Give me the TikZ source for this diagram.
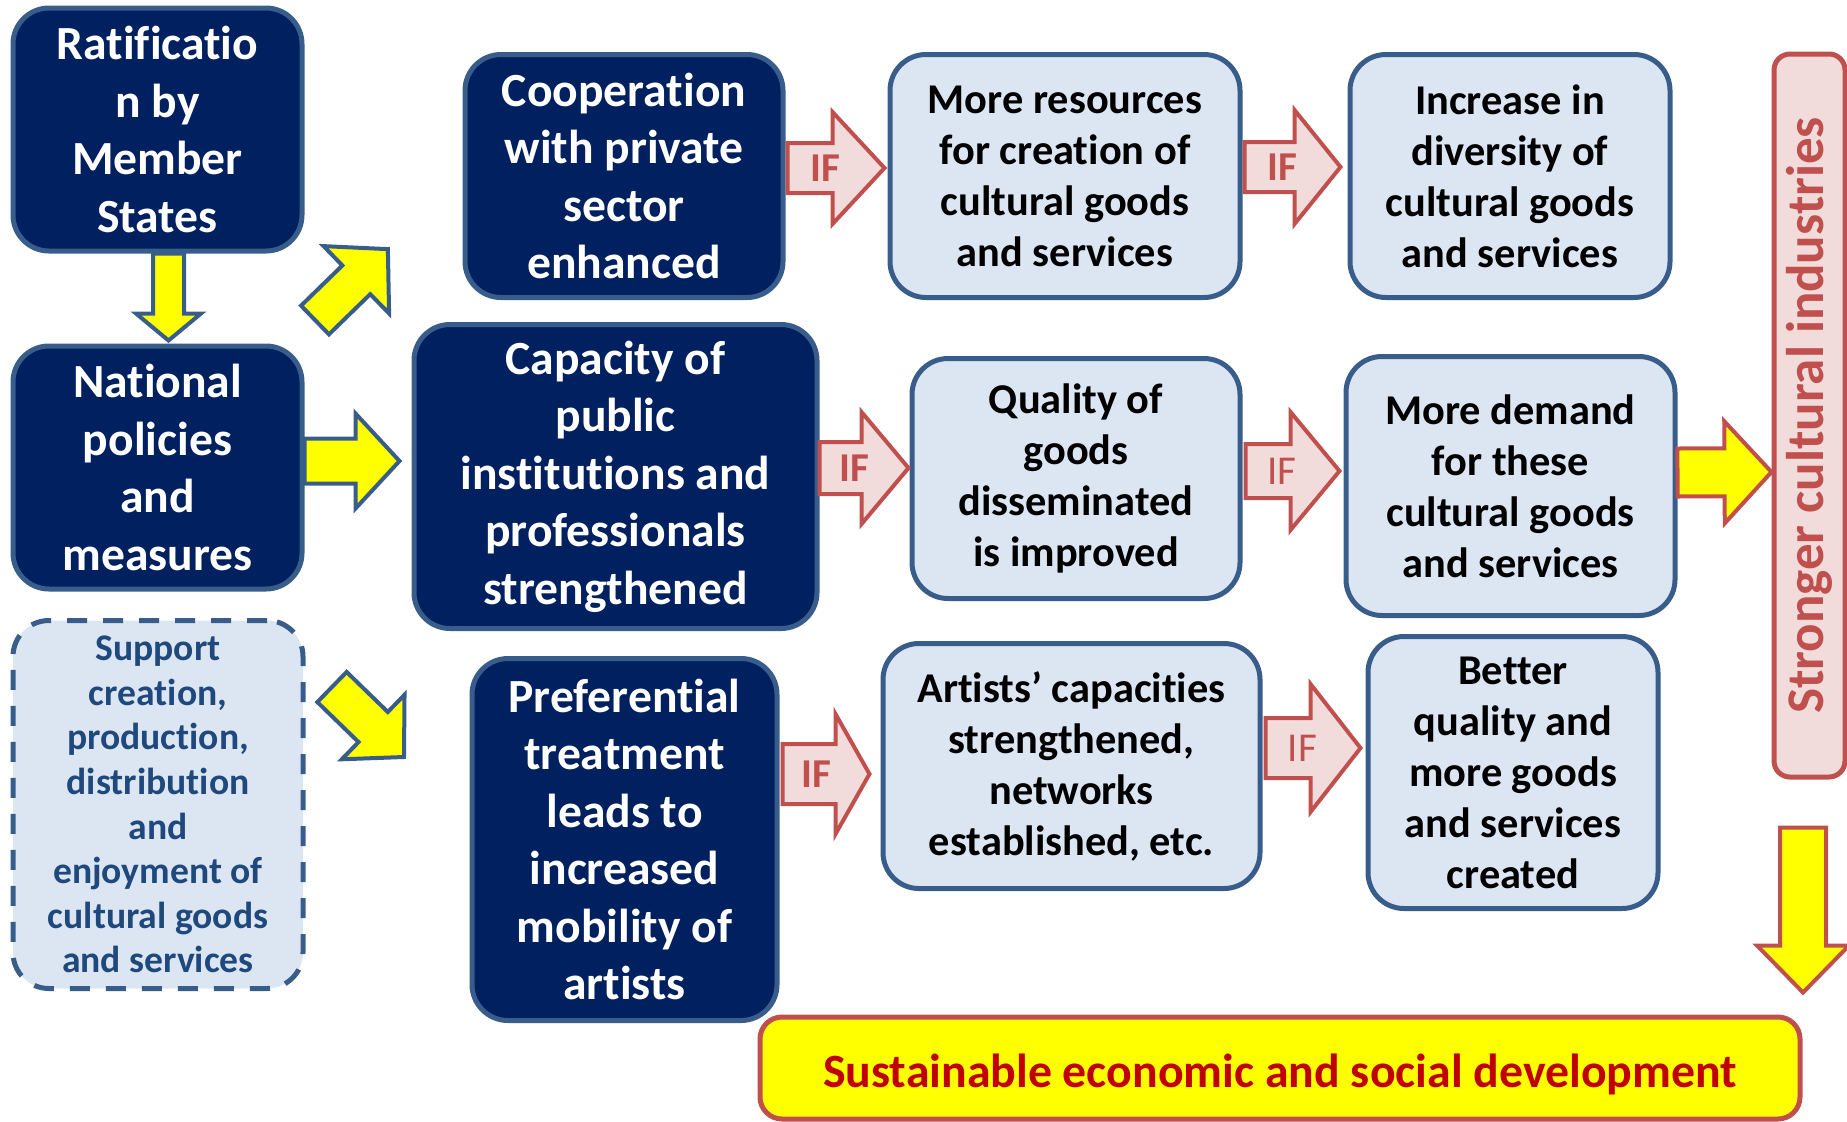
\documentclass[tikz,border=0pt]{standalone}
\usepackage{fontspec}
\setmainfont{Carlito}[Ligatures=NoCommon]
\usetikzlibrary{calc}
\definecolor{navy}{HTML}{002060}
\definecolor{bblue}{HTML}{385D8A}
\definecolor{lblue}{HTML}{DCE6F2}
\definecolor{pinkf}{HTML}{F2DCDB}
\definecolor{redb}{HTML}{C0504D}
\definecolor{dred}{HTML}{C00000}
\definecolor{stext}{HTML}{1F497D}
\definecolor{yel}{HTML}{FFFF00}
\tikzset{
  boxbase/.style={inner sep=0pt, rounded corners=18pt, line width=2.5pt, align=center, anchor=center},
  darkbox/.style={boxbase, fill=navy, draw=bblue, text=white, font=\fontsize{23.8}{28.75}\selectfont\bfseries},
  lightbox/.style={boxbase, fill=lblue, draw=bblue, text=black, font=\fontsize{21.2}{25.5}\selectfont\bfseries},
  dashbox/.style={boxbase, fill=lblue, draw=bblue, dash pattern=on 10pt off 8pt, text=stext, font=\fontsize{18.8}{22.3}\selectfont\bfseries},
  ifarr/.style={fill=pinkf, draw=redb, line width=2pt},
  yarrb/.style={fill=yel, draw=bblue, line width=2pt},
  yarrr/.style={fill=yel, draw=redb, line width=2pt},
  iflab/.style={text=redb, font=\fontsize{20.5}{22}\selectfont\bfseries, inner sep=0pt},
  iflabn/.style={text=redb, font=\fontsize{20.5}{22}\selectfont, inner sep=0pt},
}
% #1 style, #2 from, #3 to, #4 shaft half width, #5 head half width, #6 head length, #7 label style, #8 label text
\newcommand\blockarr[8]{%
  \path let \p1=#2, \p2=#3, \n1={atan2(\y2-\y1,\x2-\x1)}, \n2={veclen(\x2-\x1,\y2-\y1)} in
    \pgfextra{\xdef\bax{\x1}\xdef\bay{\y1}\xdef\baang{\n1}\xdef\balen{\n2}};
  \begin{scope}[shift={(\bax,\bay)}, rotate=\baang]
    \draw[#1] (0pt,-#4) -- ({\balen*1pt-#6},-#4) -- ({\balen*1pt-#6},-#5) -- ({\balen*1pt},0pt)
      -- ({\balen*1pt-#6},#5) -- ({\balen*1pt-#6},#4) -- (0pt,#4) -- cycle;
    \if\relax\detokenize{#8}\relax\else
      \node[#7] at ({\balen*0.39pt},0pt) {#8};
    \fi
  \end{scope}
}
\begin{document}
\begin{tikzpicture}[x=0.5pt,y=-0.5pt]
\useasboundingbox (0,0) rectangle (1847,1121);
% left column
\node[darkbox, minimum width=144.5pt, minimum height=121.5pt] (rat) at (157.5,129.5) {Ratificatio\\n by\\Member\\States};
\node[darkbox, minimum width=144.5pt, minimum height=121.5pt] (nat) at (157.5,467.5) {National\\policies\\and\\measures};
\node[dashbox, minimum width=145pt, minimum height=184pt] (sup) at (158,804.5) {Support\\creation,\\production,\\distribution\\and\\enjoyment of\\cultural goods\\and services};
% second column
\node[darkbox, minimum width=159pt, minimum height=121.5pt] (coop) at (624,176) {Cooperation\\with private\\sector\\enhanced};
\node[darkbox, minimum width=201.5pt, minimum height=152pt] (cap) at (615.5,476.5) {Capacity of\\public\\institutions and\\professionals\\strengthened};
\node[darkbox, minimum width=152.5pt, minimum height=181pt] (pref) at (624.5,839.5) {Preferential\\treatment\\leads to\\increased\\mobility of\\artists};
% third column
\node[lightbox, minimum width=175pt, minimum height=121.5pt] (res) at (1065,176) {More resources\\for creation of\\cultural goods\\and services};
\node[lightbox, minimum width=164pt, minimum height=120pt] (qual) at (1076,478.5) {Quality of\\goods\\disseminated\\is improved};
\node[lightbox, minimum width=188.5pt, minimum height=122.5pt] (art) at (1071.5,766) {Artists’ capacities\\strengthened,\\networks\\established, etc.};
% fourth column
\node[lightbox, minimum width=160pt, minimum height=121.5pt] (inc) at (1510,176) {Increase in\\diversity of\\cultural goods\\and services};
\node[lightbox, minimum width=164.5pt, minimum height=129.5pt] (dem) at (1510.5,486) {More demand\\for these\\cultural goods\\and services};
\node[lightbox, minimum width=145pt, minimum height=136pt] (bet) at (1513,772.5) {Better\\quality and\\more goods\\and services\\created};
% right column
\node[boxbase, rounded corners=8pt, fill=pinkf, draw=redb, minimum width=35.5pt, minimum height=361.5pt] (str) at (1809.5,415.5) {};
\node[rotate=90, text=redb, font=\fontsize{26.5}{30}\selectfont\bfseries] (strt) at (str.center) {Stronger cultural industries};
\node[boxbase, rounded corners=11pt, fill=yel, draw=redb, minimum width=520pt, minimum height=51pt] (sus) at (1280,1068) {};
\node[text=dred, font=\fontsize{23.9}{28}\selectfont\bfseries] (sust) at ($(sus.center)+(0,6)$) {Sustainable economic and social development};
% coordinates for free arrow ends
\coordinate (d1s) at (315,320);
\coordinate (d1e) at (388,249);
\coordinate (d2s) at (332,687);
\coordinate (d2e) at (404,757);
% IF arrows
\blockarr{ifarr}{($(coop.east)+(2,-8)$)}{($(res.west)+(-3,-8)$)}{12.5pt}{28pt}{26pt}{iflab}{IF}
\blockarr{ifarr}{($(res.east)+(2,-9)$)}{($(inc.west)+(-7,-9)$)}{12.5pt}{28.5pt}{23pt}{iflab}{IF}
\blockarr{ifarr}{($(cap.east)+(0,-8.5)$)}{($(qual.west)+(-1,-10.5)$)}{13pt}{28pt}{23.5pt}{iflab}{IF}
\blockarr{ifarr}{($(qual.east)+(3,-7.5)$)}{($(dem.west)+(-4,-15)$)}{13.5pt}{29.5pt}{24.5pt}{iflabn}{IF}
\blockarr{ifarr}{($(pref.east)+(3,-65.5)$)}{($(art.west)+(-11,8)$)}{15pt}{30pt}{17pt}{iflab}{IF}
\blockarr{ifarr}{($(art.east)+(3,-18)$)}{($(bet.west)+(-5,-24.5)$)}{15pt}{32pt}{25pt}{iflabn}{IF}
% yellow arrows
\blockarr{yarrb}{($(rat.south)+(11,0)$)}{($(nat.north)+(11,-3)$)}{7.75pt}{16.25pt}{13.5pt}{}{}
\blockarr{yarrb}{($(nat.east)+(0,-6.5)$)}{($(cap.west)+(-12,-15.5)$)}{11.25pt}{23.75pt}{22pt}{}{}
\blockarr{yarrb}{(d1s)}{(d1e)}{10pt}{23.5pt}{22pt}{}{}
\blockarr{yarrb}{(d2s)}{(d2e)}{10.5pt}{22.5pt}{21.5pt}{}{}
\blockarr{yarrr}{($(dem.east)+(0,-13.5)$)}{(str.west |- 0,472)}{12pt}{25.5pt}{23.5pt}{}{}
\blockarr{yarrr}{($(str.south)+(-6.5,48)$)}{($(str.south)+(-6.5,213)$)}{11.5pt}{23pt}{23.5pt}{}{}
\end{tikzpicture}
\end{document}
